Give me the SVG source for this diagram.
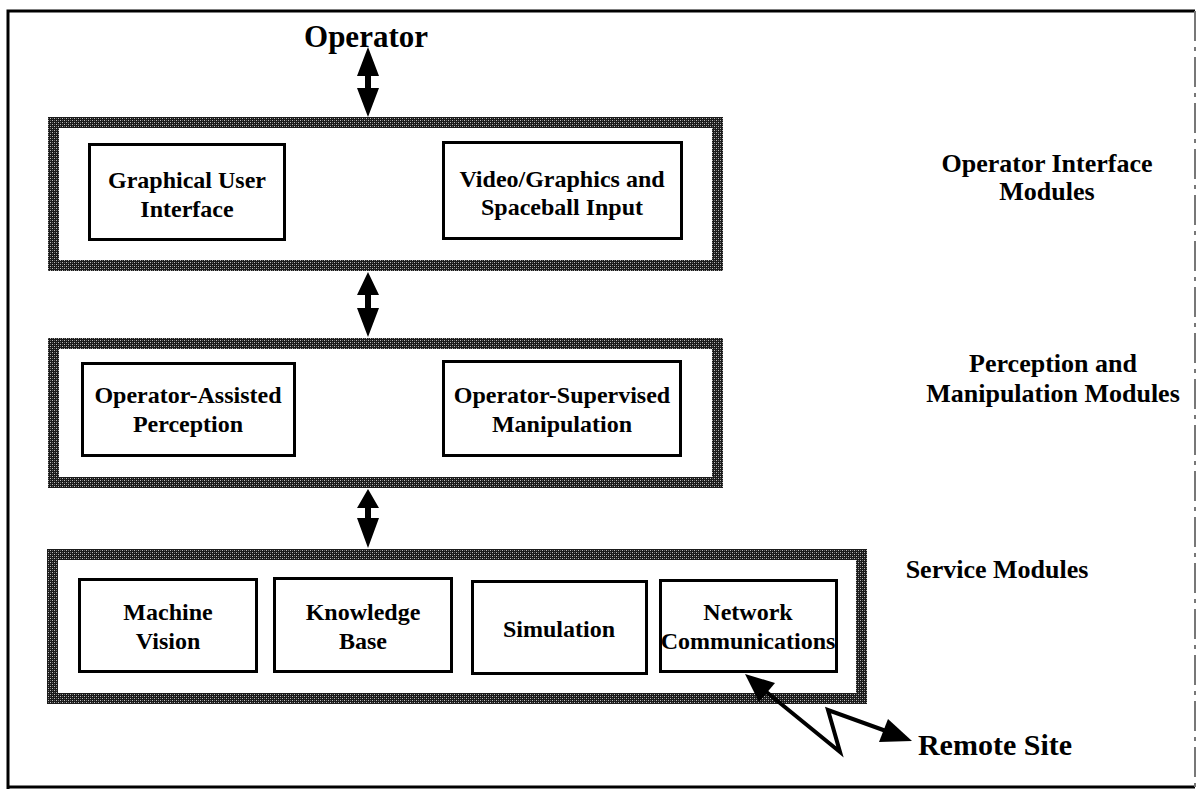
<svg xmlns="http://www.w3.org/2000/svg" width="1197" height="789" viewBox="0 0 1197 789">
<defs>
<pattern id="stip" width="4" height="4" patternUnits="userSpaceOnUse">
<rect width="4" height="4" fill="#1a1a1a"/>
<rect x="0" y="0" width="1" height="1" fill="#bbb"/>
<rect x="2" y="2" width="1" height="1" fill="#bbb"/>
<rect x="2" y="0" width="1" height="1" fill="#666"/>
<rect x="0" y="2" width="1" height="1" fill="#666"/>
</pattern>
<style>
.group{fill:#fff;stroke:url(#stip);stroke-width:11}
.mod{fill:#fff;stroke:#000;stroke-width:3}
.t{font-family:"Liberation Serif","Times New Roman",serif;font-weight:bold;fill:#000;text-anchor:middle}
.in{font-size:24px}
.side{font-size:26px}
.big{font-size:31px}
.arr{fill:#000}
.zig{fill:none;stroke:#000;stroke-width:4;stroke-linejoin:miter}
</style>
</defs>
<rect width="1197" height="789" fill="#fff"/>
<g id="frame">
<path d="M1195,11 H8 V789" fill="none" stroke="#000" stroke-width="3"/>
<path d="M8,787 H1195" fill="none" stroke="#000" stroke-width="3"/>
<path d="M1195,11 V787" fill="none" stroke="#777" stroke-width="2" stroke-dasharray="30,6,4,6"/>
</g>
<g id="operator"><text class="t big" x="366" y="47">Operator</text></g>
<g id="operator-interface-modules">
<rect class="group" x="53.5" y="122.5" width="664" height="143"/>
<text class="t side" x="1047" y="172">Operator Interface</text>
<text class="t side" x="1047" y="200">Modules</text>
</g>
<g id="gui">
<rect class="mod" x="89.5" y="144.5" width="195" height="95"/>
<text class="t in" x="187" y="188">Graphical User</text>
<text class="t in" x="187" y="217">Interface</text>
</g>
<g id="video">
<rect class="mod" x="443.5" y="142.5" width="238" height="96"/>
<text class="t in" x="562" y="187">Video/Graphics and</text>
<text class="t in" x="562" y="215">Spaceball Input</text>
</g>
<g id="perception-manipulation-modules">
<rect class="group" x="53.5" y="343.5" width="664" height="139"/>
<text class="t side" x="1053" y="372">Perception and</text>
<text class="t side" x="1053" y="402">Manipulation Modules</text>
</g>
<g id="oap">
<rect class="mod" x="82.5" y="363.5" width="212" height="92"/>
<text class="t in" x="188" y="403">Operator-Assisted</text>
<text class="t in" x="188" y="432">Perception</text>
</g>
<g id="osm">
<rect class="mod" x="443.5" y="361.5" width="237" height="94"/>
<text class="t in" x="562" y="403">Operator-Supervised</text>
<text class="t in" x="562" y="432">Manipulation</text>
</g>
<g id="service-modules">
<rect class="group" x="52.5" y="554.5" width="809" height="144"/>
<text class="t side" x="997" y="578">Service Modules</text>
</g>
<g id="machine-vision">
<rect class="mod" x="79.5" y="579.5" width="177" height="92"/>
<text class="t in" x="168" y="620">Machine</text>
<text class="t in" x="168" y="649">Vision</text>
</g>
<g id="knowledge-base">
<rect class="mod" x="274.5" y="578.5" width="177" height="93"/>
<text class="t in" x="363" y="620">Knowledge</text>
<text class="t in" x="363" y="649">Base</text>
</g>
<g id="simulation">
<rect class="mod" x="472.5" y="581.5" width="174" height="92"/>
<text class="t in" x="559" y="637">Simulation</text>
</g>
<g id="network">
<rect class="mod" x="660.5" y="580.5" width="176" height="91"/>
<text class="t in" x="748" y="620">Network</text>
<text class="t in" x="748" y="649">Communications</text>
</g>
<g id="remote-site"><text class="t big" x="995" y="755" style="font-size:30px">Remote Site</text></g>
<g id="connectors">
<polygon class="arr" points="368,47 379,76 371,76 371,88 379,88 368,117 357,88 365,88 365,76 357,76"/>
<polygon class="arr" points="368,272 379,295 371,295 371,308 379,308 368,337 357,308 365,308 365,295 357,295"/>
<polygon class="arr" points="368,489 379,508 371,508 371,518 379,518 368,548 357,518 365,518 365,508 357,508"/>
<polyline class="zig" points="764,690 840,752 828,710 886,731"/>
<polygon class="arr" points="745,674 775,683 759,702"/>
<polygon class="arr" points="912,741 879,742 888,719"/>
</g>
</svg>
